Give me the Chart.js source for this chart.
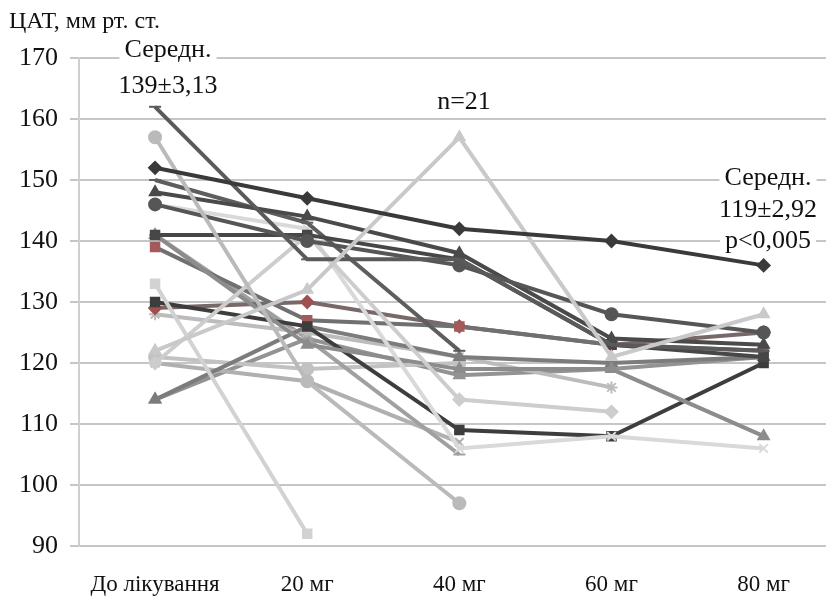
<!DOCTYPE html>
<html>
<head>
<meta charset="utf-8">
<script src="https://cdn.jsdelivr.net/npm/chart.js@4"></script>
<style>
  html, body { margin: 0; padding: 0; background: #fff; }
  #wrap { width: 834px; height: 604px; position: relative; }
</style>
</head>
<body>
<div id="wrap"><canvas id="chart"></canvas></div>
<script>
// Categories (dose steps)
const categories = ['До лікування', '20 мг', '40 мг', '60 мг', '80 мг'];
const yTicks = [90, 100, 110, 120, 130, 140, 150, 160, 170];

const p01 = [152, 147, 142, 140, 136];
const p02 = [122, 132, 157, 121, 128];
const p03 = [157, 117, 97, null, null];
const p04 = [133, 92, null, null, null];
const p05 = [162, 137, 137, 123, 122];
const p06 = [146, 140, 136, 128, 125];
const p07 = [148, 144, 138, 124, 123];
const p08 = [141, 141, 137, 123, 121];
const p09 = [150, 143, 122, null, null];
const p10 = [120, 141, 114, 112, null];
const p11 = [146, 142, 106, 108, 106];
const p12 = [141, 123, 119, 119, 108];
const p13 = [130, 126, 109, 108, 120];
const p14 = [139, 127, 126, 123, 122];
const p15 = [129, 130, 126, 123, 125];
const p16 = [114, 126, 121, 120, 121];
const p17 = [128, 125, 121, 116, null];
const p18 = [141, 124, 105, null, null];
const p19 = [121, 119, 120, null, null];
const p20 = [120, 117, 107, null, null];
const p21 = [114, 124, 118, 119, 121];

// Annotations drawn over the plot
const notes = [
    { lines: ['Середн.', '139±3,13'], x: 168, y: [50, 86] },
    { lines: ['n=21'], x: 464, y: [102] },
    { lines: ['Середн.', '119±2,92', 'p<0,005'], x: 768, y: [178, 210, 241] }
];

const series = [
    { data: p01, color: '#3a3a3a', marker: 'rectRot' },
    { data: p02, color: '#c9c9c9', marker: 'triangle' },
    { data: p03, color: '#bababa', marker: 'circle' },
    { data: p04, color: '#d2d2d2', marker: 'rect' },
    { data: p05, color: '#5a5a5a', marker: 'line' },
    { data: p06, color: '#565656', marker: 'circle' },
    { data: p07, color: '#4a4a4a', marker: 'triangle' },
    { data: p08, color: '#474747', marker: 'rect' },
    { data: p09, color: '#5e5e5e', marker: 'line' },
    { data: p10, color: '#cdcdcd', marker: 'rectRot' },
    { data: p11, color: '#d9d9d9', marker: 'crossRot' },
    { data: p12, color: '#8c8c8c', marker: 'triangle' },
    { data: p13, color: '#3d3d3d', marker: 'rect' },
    { data: p14, color: '#707070', marker: 'rect', point: '#a35a5a' },
    { data: p15, color: '#786868', marker: 'rectRot', point: '#a05050' },
    { data: p16, color: '#7c7c7c', marker: 'triangle' },
    { data: p17, color: '#bcbcbc', marker: 'star' },
    { data: p18, color: '#a0a0a0', marker: 'line' },
    { data: p19, color: '#c2c2c2', marker: 'circle' },
    { data: p20, color: '#b0b0b0', marker: 'crossRot' },
    { data: p21, color: '#939393', marker: 'triangle' }
];

const datasets = series.map(s => ({
    data: s.data.map((v, i) => ({ x: i, y: v })),
    borderColor: s.color,
    backgroundColor: s.point || s.color,
    pointBorderColor: s.point || s.color,
    pointBackgroundColor: s.point || s.color,
    pointStyle: s.marker,
    pointRadius: 6,
    pointBorderWidth: 2,
    borderWidth: 4,
    tension: 0,
    spanGaps: false
}));

const serif = '"Liberation Serif", "DejaVu Serif", serif';

// White-boxed text labels
const notesPlugin = {
    id: 'notes',
    afterDatasetsDraw(chart) {
        const ctx = chart.ctx;
        ctx.save();
        ctx.font = '26px ' + serif;
        ctx.textAlign = 'center';
        ctx.textBaseline = 'middle';
        notes.forEach(n => {
            n.lines.forEach((t, k) => {
                const w = ctx.measureText(t).width;
                ctx.fillStyle = '#fff';
                ctx.fillRect(n.x - w / 2 - 5, n.y[k] - 13, w + 10, 26);
                ctx.fillStyle = '#111';
                ctx.fillText(t, n.x, n.y[k]);
            });
        });
        ctx.font = '24px ' + serif;
        ctx.textAlign = 'left';
        ctx.fillText('ЦАТ, мм рт. ст.', 9, 22);
        ctx.restore();
    }
};

new Chart(document.getElementById('chart'), {
    type: 'line',
    data: { datasets: datasets },
    options: {
        responsive: true,
        maintainAspectRatio: false,
        animation: false,
        layout: { padding: { top: 58, right: 0, left: 0, bottom: 0 } },
        plugins: { legend: { display: false }, tooltip: { enabled: false } },
        scales: {
            x: {
                type: 'linear',
                min: -0.5,
                max: 4.41,
                afterBuildTicks: scale => {
                    scale.ticks = categories.map((c, i) => ({ value: i }));
                },
                afterFit: scale => { scale.height = 58; },
                grid: { display: false },
                border: { display: false },
                ticks: {
                    padding: 17,
                    color: '#111',
                    font: { family: serif, size: 23 },
                    callback: v => categories[v]
                }
            },
            y: {
                min: 90,
                max: 170,
                afterBuildTicks: scale => {
                    scale.ticks = yTicks.map(v => ({ value: v }));
                },
                afterFit: scale => { scale.width = 79; },
                grid: { color: '#c6c6c6', lineWidth: 2, tickLength: 9 },
                border: { display: true, color: '#cfcfcf', width: 2 },
                ticks: {
                    padding: 12,
                    color: '#111',
                    font: { family: serif, size: 26 }
                }
            }
        }
    },
    plugins: [notesPlugin]
});
</script>
</body>
</html>
